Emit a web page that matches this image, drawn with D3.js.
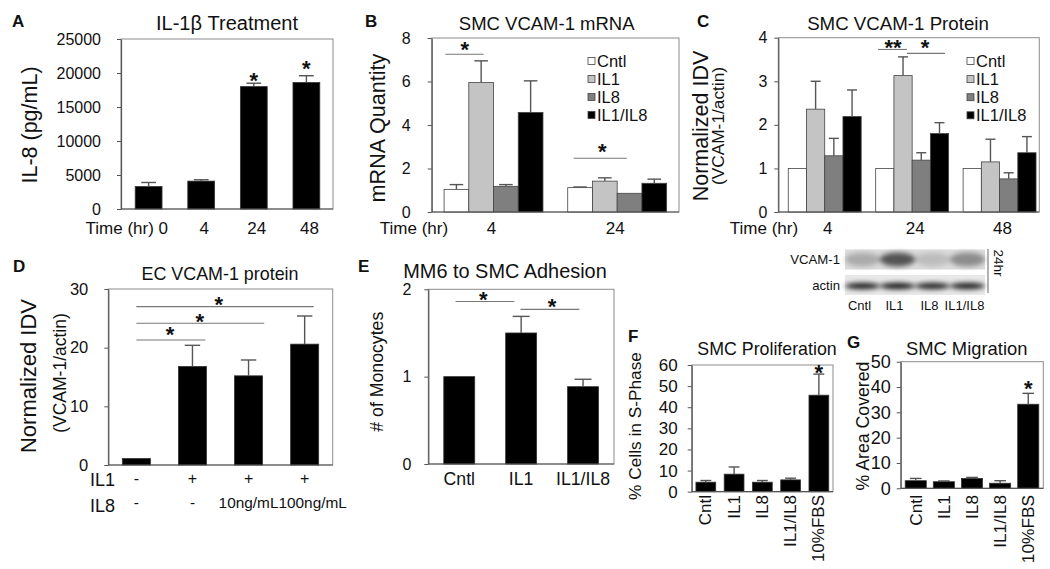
<!DOCTYPE html>
<html><head><meta charset="utf-8">
<script src="https://cdn.jsdelivr.net/npm/d3@7"></script>
<style>
body{margin:0;background:#fff}
text{font-family:"Liberation Sans",Arial,Helvetica,sans-serif;fill:#111}
</style></head><body>
<svg id="fig" width="1050" height="569"></svg>
<script>
// ---------------- DATA ----------------
// Panel A
const aTitle = "IL-1β Treatment";
const aCats = ["0","4","24","48"];
const aVals = [3300, 4100, 18000, 18600];
const aErr  = [600, 200, 500, 1000];
const aTicks = [0,5000,10000,15000,20000,25000];
const aStars = [{i:2, v:19550, t:"*"}, {i:3, v:21400, t:"*"}];

// Panels B & C shared
const treatments = ["Cntl","IL1","IL8","IL1/IL8"];
const treatColors = ["#ffffff","#c4c4c4","#7f7f7f","#000000"];

// Panel B
const bTimes = ["4","24"];
const bVals = [[1.04,5.95,1.18,4.58],[1.12,1.42,0.86,1.32]];
const bErr  = [[0.22,1.00,0.08,1.45],[0.03,0.15,0.02,0.19]];
const bTicks = [0,2,4,6,8];
const bSigLines = [{g:0, from:-0.45, to:1.1, v:7.25},{g:1, from:-0.26, to:1.89, v:2.47}];
const bStars = [{g:0, s:0.34, v:7.68, t:"*"},{g:1, s:0.9, v:2.99, t:"*"}];

// Panel C
const cTimes = ["4","24","48"];
const cVals = [[1,2.36,1.29,2.19],[1,3.13,1.19,1.80],[1,1.15,0.76,1.36]];
const cErr  = [[0,0.64,0.40,0.61],[0,0.43,0.17,0.25],[0,0.52,0.14,0.37]];
const cTicks = [0,1,2,3,4];
const cSigLines = [{g:1, from:-0.37, to:1.21, v:3.73},{g:1, from:1.21, to:3.3, v:3.64}];
const cStars = [{g:1, s:0.45, v:3.88, t:"**"},{g:1, s:2.2, v:3.88, t:"*"}];

// Blot (24hr)
const blotLanes = ["Cntl","IL1","IL8","IL1/IL8"];
const vcamBand  = [0.22, 0.62, 0.14, 0.36];
const actinBand = [0.88, 0.9, 0.86, 0.88];

// Panel D
const dIL1 = ["-","+","+","+"];
const dIL8 = ["-","-","10ng/mL","100ng/mL"];
const dVals = [1.1, 16.8, 15.2, 20.6];
const dErr  = [0, 3.6, 2.7, 4.8];
const dTicks = [0,10,20,30];
const dSigLines = [{from:0,to:1.23,v:21.3},{from:0,to:2.28,v:24.15},{from:0,to:3.16,v:27.0}];
const dStars = [{t:0.6,v:23.0,s:"*"},{t:1.13,v:25.3,s:"*"},{t:1.47,v:28.1,s:"*"}];

// Panel E
const eCats = ["Cntl","IL1","IL1/IL8"];
const eVals = [1.0, 1.50, 0.885];
const eErr  = [0, 0.19, 0.085];
const eTicks = [0,1,2];
const eSigLines = [{from:-0.06,to:0.89,v:1.86},{from:0.99,to:1.94,v:1.77}];
const eStars = [{t:0.39,v:1.94,s:"*"},{t:1.5,v:1.86,s:"*"}];

// Panels F & G
const fgCats = ["Cntl","IL1","IL8","IL1/IL8","10%FBS"];
const fVals = [4.5, 8.3, 4.5, 5.6, 45.7];
const fErr  = [0.8, 3.4, 0.8, 0.8, 10.0];
const fTicks = [0,10,20,30,40,50,60];
const fStars = [{i:4, v:58.8, t:"*"}];
const gVals = [3.0, 2.6, 3.9, 2.0, 33.2];
const gErr  = [0.9, 0.3, 0.4, 1.0, 4.3];
const gTicks = [0,10,20,30,40,50];
const gStars = [{i:4, v:41.4, t:"*"}];

// ---------------- DRAWING ----------------
const svg = d3.select("#fig");
svg.append("rect").attr("width",1050).attr("height",569).attr("fill","#fff");
const defs = svg.append("defs");
defs.append("filter").attr("id","blur").attr("x","-30%").attr("y","-60%").attr("width","160%").attr("height","220%")
  .append("feGaussianBlur").attr("stdDeviation",2.4);

function txt(x,y,s,fs,o={}){
  const t = svg.append("text").attr("x",x).attr("y",y).attr("font-size",fs).text(s);
  if(o.anchor) t.attr("text-anchor",o.anchor);
  if(o.bold) t.attr("font-weight","bold");
  if(o.rot!==undefined) t.attr("transform",`rotate(${o.rot},${x},${y})`);
  if(o.db) t.attr("dominant-baseline",o.db);
  return t;
}
function starAt(x,cy,s){
  txt(x, cy+22*0.56, s, 22, {anchor:"middle", bold:true});
}
function frame(x0,x1,yT,yB){
  svg.append("rect").attr("x",x0).attr("y",yT).attr("width",x1-x0).attr("height",yB-yT)
    .attr("fill","none").attr("stroke","#8c8c8c").attr("stroke-width",1);
}
function axes(y,x0,x1,yB,ticks,fs,pad){
  const g = svg.append("g").attr("transform",`translate(${x0},0)`)
    .call(d3.axisLeft(y).tickValues(ticks).tickSize(4).tickSizeOuter(0).tickPadding(pad).tickFormat(d3.format("d")));
  g.select(".domain").attr("stroke","#555").attr("stroke-width",1.2);
  g.selectAll(".tick line").attr("stroke","#555");
  g.selectAll(".tick text").attr("font-size",fs).attr("fill","#111")
    .attr("font-family",'"Liberation Sans",Arial,sans-serif');
  svg.append("line").attr("x1",x0).attr("x2",x1).attr("y1",yB).attr("y2",yB).attr("stroke","#555").attr("stroke-width",1.2);
}
function errBar(cx,yv,ye,bw){
  if(Math.abs(yv-ye)<0.5) return;
  const cw = bw*0.55;
  svg.append("line").attr("x1",cx).attr("x2",cx).attr("y1",yv).attr("y2",ye).attr("stroke","#555").attr("stroke-width",1.4);
  svg.append("line").attr("x1",cx-cw/2).attr("x2",cx+cw/2).attr("y1",ye).attr("y2",ye).attr("stroke","#555").attr("stroke-width",1.4);
}
function sigLine(xa,xb,yy){
  svg.append("line").attr("x1",xa).attr("x2",xb).attr("y1",yy).attr("y2",yy).attr("stroke","#777").attr("stroke-width",1.1);
}

function simplePanel(c){
  const x = d3.scaleBand().domain(c.cats).range([c.x0, c.xr1||c.x1]).paddingInner(c.pIn).paddingOuter(c.pOut);
  const y = d3.scaleLinear().domain([0,c.max]).range([c.yB,c.yT]);
  frame(c.x0,c.x1,c.yT,c.yB);
  const bw = x.bandwidth();
  c.cats.forEach((k,i)=>{
    svg.append("rect").attr("x",x(k)).attr("y",y(c.vals[i])).attr("width",bw).attr("height",c.yB-y(c.vals[i]))
      .attr("fill","#000").attr("stroke","#333").attr("stroke-width",0.8);
    if(c.errs[i]>0) errBar(x(k)+bw/2, y(c.vals[i]), y(c.vals[i]+c.errs[i]), bw);
  });
  axes(y,c.x0,c.x1,c.yB,c.ticks,c.tickFs,c.tickPad);
  const pos = d3.scaleLinear().domain([0,c.cats.length-1]).range([x(c.cats[0])+bw/2, x(c.cats[c.cats.length-1])+bw/2]);
  return {x,y,bw,pos};
}

function groupedPanel(c){
  const xg = d3.scaleBand().domain(c.groups).range([c.x0, c.xr1||c.x1]).paddingInner(c.pIn).paddingOuter(c.pOut);
  const xs = d3.scaleBand().domain(treatments).range([0,xg.bandwidth()]);
  const y = d3.scaleLinear().domain([0,c.max]).range([c.yB,c.yT]);
  frame(c.x0,c.x1,c.yT,c.yB);
  const bw = xs.bandwidth();
  c.groups.forEach((g,gi)=>{
    treatments.forEach((t,ti)=>{
      const v = c.vals[gi][ti], e = c.errs[gi][ti];
      const bx = xg(g)+xs(t);
      svg.append("rect").attr("x",bx).attr("y",y(v)).attr("width",bw).attr("height",c.yB-y(v))
        .attr("fill",treatColors[ti]).attr("stroke","#444").attr("stroke-width",0.8);
      if(e>0) errBar(bx+bw/2, y(v), y(v+e), bw);
    });
  });
  axes(y,c.x0,c.x1,c.yB,c.ticks,c.tickFs,c.tickPad);
  const pos = (g,s)=> xg(c.groups[g]) + (s+0.5)*bw;
  return {xg,xs,y,bw,pos};
}

function legend(x,y0,dy){
  treatments.forEach((t,i)=>{
    const yy = y0+i*dy;
    svg.append("rect").attr("x",x).attr("y",yy-3.5).attr("width",7).attr("height",7)
      .attr("fill",treatColors[i]).attr("stroke","#444").attr("stroke-width",0.8);
    txt(x+9, yy, t, 16.5, {db:"central"});
  });
}

const timeY = 233.5;

// ---- Panel A ----
{
  const P = simplePanel({cats:aCats, vals:aVals, errs:aErr, ticks:aTicks, max:25000,
    x0:121, x1:333, xr1:334, yT:39, yB:209, pIn:0.49, pOut:0.27, tickFs:16, tickPad:16});
  aStars.forEach(s=> starAt(P.pos(s.i), P.y(s.v), s.t));
  aCats.forEach((k,i)=>{
    const cx = P.x(k)+P.bw/2;
    if(i===0) txt(P.x(k)+P.bw+6, timeY, "Time (hr) "+k, 17, {anchor:"end"});
    else txt(cx+3, timeY, k, 17, {anchor:"middle"});
  });
  txt(227, 30, aTitle, 20, {anchor:"middle"});
  txt(12, 27, "A", 17, {bold:true});
  txt(30, 125, "IL-8 (pg/mL)", 21.5, {anchor:"middle", rot:-90, db:"central"});
}

// ---- Panel B ----
{
  const P = groupedPanel({groups:bTimes, vals:bVals, errs:bErr, ticks:bTicks, max:8,
    x0:431.7, x1:679, yT:38, yB:212, pIn:0.2, pOut:0.1, tickFs:16, tickPad:17});
  bSigLines.forEach(l=> sigLine(P.pos(l.g,l.from), P.pos(l.g,l.to), P.y(l.v)));
  bStars.forEach(s=> starAt(P.pos(s.g,s.s), P.y(s.v), s.t));
  legend(588, 61, 18);
  txt(414, timeY, "Time (hr)", 17, {anchor:"middle"});
  bTimes.forEach(g=> txt(P.xg(g)+P.xg.bandwidth()/2-2, timeY, g, 17, {anchor:"middle"}));
  txt(546.7, 30, "SMC VCAM-1 mRNA", 18.5, {anchor:"middle"});
  txt(365, 27, "B", 17, {bold:true});
  txt(377, 128, "mRNA Quantity", 21.6, {anchor:"middle", rot:-90, db:"central"});
}

// ---- Panel C ----
{
  const P = groupedPanel({groups:cTimes, vals:cVals, errs:cErr, ticks:cTicks, max:4,
    x0:778.3, x1:1039.3, xr1:1046, yT:37.7, yB:212, pIn:0.166, pOut:0.114, tickFs:16, tickPad:7});
  cSigLines.forEach(l=> sigLine(P.pos(l.g,l.from), P.pos(l.g,l.to), P.y(l.v)));
  cStars.forEach(s=> starAt(P.pos(s.g,s.s), P.y(s.v), s.t));
  legend(967, 61, 18.1);
  txt(764, timeY, "Time (hr)", 17, {anchor:"middle"});
  cTimes.forEach(g=> txt(P.xg(g)+P.xg.bandwidth()/2+3, timeY, g, 17, {anchor:"middle"}));
  txt(898, 30, "SMC VCAM-1 Protein", 18.7, {anchor:"middle"});
  txt(697, 27, "C", 17, {bold:true});
  txt(701, 126, "Normalized IDV", 21.5, {anchor:"middle", rot:-90, db:"central"});
  txt(717.5, 126, "(VCAM-1/actin)", 17.3, {anchor:"middle", rot:-90, db:"central"});
}

// ---- Blot ----
{
  const bx = d3.scaleBand().domain(blotLanes).range([845,985]);
  const rows = [{name:"VCAM-1", y0:249.5, h:20, vals:vcamBand, ry:7, bg:"#dcdcdc"},
                {name:"actin", y0:275, h:20, vals:actinBand, ry:3.2, bg:"#e8e8e8"}];
  rows.forEach(r=>{
    svg.append("rect").attr("x",845).attr("y",r.y0).attr("width",140).attr("height",r.h).attr("fill",r.bg);
    const g = svg.append("g").attr("filter","url(#blur)");
    blotLanes.forEach((l,i)=>{
      g.append("ellipse").attr("cx",bx(l)+bx.bandwidth()/2).attr("cy",r.y0+r.h/2+ (r.name==="actin"?1:0))
        .attr("rx",bx.bandwidth()*0.5).attr("ry",r.ry)
        .attr("fill","#000").attr("opacity",r.vals[i]);
    });
    txt(840, r.y0+r.h/2, r.name, 13.2, {anchor:"end", db:"central"});
  });
  svg.append("line").attr("x1",988).attr("x2",988).attr("y1",249).attr("y2",293).attr("stroke","#666").attr("stroke-width",1);
  txt(998, 263, "24hr", 13.5, {anchor:"middle", rot:90, db:"central"});
  blotLanes.forEach(l=> txt(bx(l)+bx.bandwidth()/2-3, 305, l, 13, {anchor:"middle", db:"central"}));
}

// ---- Panel D ----
{
  const P = simplePanel({cats:dIL8.map((d,i)=>i+""), vals:dVals, errs:dErr, ticks:dTicks, max:30,
    x0:108.3, x1:332.7, yT:289, yB:465, pIn:0.5, pOut:0.25, tickFs:16.5, tickPad:16});
  dSigLines.forEach(l=> sigLine(P.pos(l.from), P.pos(l.to), P.y(l.v)));
  dStars.forEach(s=> starAt(P.pos(s.t), P.y(s.v), s.s));
  txt(90, 486, "IL1", 18);
  txt(90, 512, "IL8", 18);
  dIL1.forEach((s,i)=> txt(P.pos(i), 484, s, 16, {anchor:"middle"}));
  dIL8.forEach((s,i)=> txt(P.pos(i)+(i===3?8:0), 508, s, 15.4, {anchor:"middle"}));
  txt(220, 280, "EC VCAM-1 protein", 17.9, {anchor:"middle"});
  txt(13, 272, "D", 17, {bold:true});
  txt(28.3, 376, "Normalized IDV", 22, {anchor:"middle", rot:-90, db:"central"});
  txt(60, 373, "(VCAM-1/actin)", 17.5, {anchor:"middle", rot:-90, db:"central"});
}

// ---- Panel E ----
{
  const P = simplePanel({cats:eCats, vals:eVals, errs:eErr, ticks:eTicks, max:2,
    x0:428.3, x1:614, yT:289.3, yB:464, pIn:0.5, pOut:0.25, tickFs:16, tickPad:13});
  eSigLines.forEach(l=> sigLine(P.pos(l.from), P.pos(l.to), P.y(l.v)));
  eStars.forEach(s=> starAt(P.pos(s.t), P.y(s.v), s.s));
  eCats.forEach(k=> txt(P.x(k)+P.bw/2, 485, k, 17.7, {anchor:"middle"}));
  txt(505, 278, "MM6 to SMC Adhesion", 19.9, {anchor:"middle"});
  txt(358, 272, "E", 17, {bold:true});
  txt(376.7, 371.7, "# of Monocytes", 17.7, {anchor:"middle", rot:-90, db:"central"});
}

// ---- Panel F ----
{
  const P = simplePanel({cats:fgCats, vals:fVals, errs:fErr, ticks:fTicks, max:60,
    x0:691.7, x1:833, yT:365, yB:491.7, pIn:0.3, pOut:0.15, tickFs:17, tickPad:10});
  fStars.forEach(s=> starAt(P.pos(s.i), P.y(s.v), s.t));
  fgCats.forEach(k=> txt(P.x(k)+P.bw/2, 495, k, 17, {anchor:"end", rot:-90, db:"central"}));
  txt(767, 355, "SMC Proliferation", 17.8, {anchor:"middle"});
  txt(628, 342, "F", 17, {bold:true});
  txt(635, 426, "% Cells in S-Phase", 17.3, {anchor:"middle", rot:-90, db:"central"});
}

// ---- Panel G ----
{
  const P = simplePanel({cats:fgCats, vals:gVals, errs:gErr, ticks:gTicks, max:50,
    x0:900.7, x1:1043.3, yT:361.7, yB:488.3, pIn:0.25, pOut:0.16, tickFs:18, tickPad:6});
  gStars.forEach(s=> starAt(P.pos(s.i), P.y(s.v), s.t));
  fgCats.forEach(k=> txt(P.x(k)+P.bw/2, 495, k, 17.3, {anchor:"end", rot:-90, db:"central"}));
  txt(966.7, 355, "SMC Migration", 18.4, {anchor:"middle"});
  txt(847, 348, "G", 17, {bold:true});
  txt(863.3, 426, "% Area Covered", 17.7, {anchor:"middle", rot:-90, db:"central"});
}
</script>
</body></html>
